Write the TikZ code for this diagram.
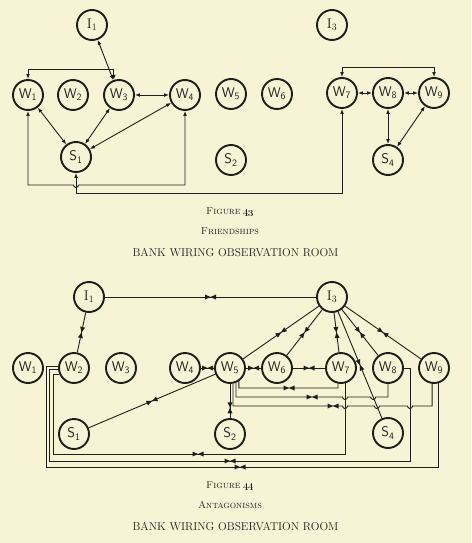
\documentclass[tikz,border=0pt]{standalone}
\usetikzlibrary{arrows.meta,decorations.markings}
\definecolor{paper}{RGB}{247,244,213}
\definecolor{ink}{RGB}{30,30,28}
\begin{document}
\begin{tikzpicture}[x=1pt,y=-1pt,
  person/.style={circle, draw=ink, line width=1.9pt, minimum size=30pt, inner sep=0pt,
     text=ink, font=\fontsize{14}{14}\selectfont\sffamily},
  iperson/.style={person, font=\fontsize{14}{14}\selectfont\rmfamily},
  link/.style={draw=ink, line width=0.9pt},
  twoway/.style={link, {Latex[length=5pt,width=3.8pt]}-{Latex[length=5pt,width=3.8pt]}},
  tie/.style={postaction={decorate, decoration={markings, mark=at position #1 with
     {\fill[ink] (-5.5,-2.5) -- (0,0) -- (-5.5,2.5) -- cycle (5.5,-2.5) -- (0,0) -- (5.5,2.5) -- cycle;}}}},
  tie/.default=0.5,
  tiepic/.pic={\fill[ink] (-5.5,-2.5) -- (0,0) -- (-5.5,2.5) -- cycle (5.5,-2.5) -- (0,0) -- (5.5,2.5) -- cycle;},
  caption/.style={text=ink, font=\fontsize{10}{12}\selectfont},
  title/.style={text=ink, font=\fontsize{11.4}{13}\selectfont}
]
\fill[paper] (0,0) rectangle (471,543);
\useasboundingbox (0,0) rectangle (471,543);

% ---------------- Figure 43 ----------------
\node[iperson] (tI1) at (92,25) {I\textsubscript{1}};
\node[iperson] (tI3) at (332,25) {I\textsubscript{3}};
\node[person] (tW1) at (28,95) {W\textsubscript{1}};
\node[person] (tW2) at (73,95) {W\textsubscript{2}};
\node[person] (tW3) at (119,95) {W\textsubscript{3}};
\node[person] (tW4) at (185,95) {W\textsubscript{4}};
\node[person] (tW5) at (231,94) {W\textsubscript{5}};
\node[person] (tW6) at (277,94) {W\textsubscript{6}};
\node[person] (tW7) at (342,93) {W\textsubscript{7}};
\node[person] (tW8) at (388,93) {W\textsubscript{8}};
\node[person] (tW9) at (434,93) {W\textsubscript{9}};
\node[person] (tS1) at (76,157) {S\textsubscript{1}};
\node[person] (tS2) at (231,160) {S\textsubscript{2}};
\node[person] (tS4) at (388,160) {S\textsubscript{4}};

\draw[twoway] (tI1) -- (tW3);
\draw[twoway] (tW1.north) -- (28,69) -| (tW3.109);
\draw[twoway] (tW3) -- (tW4);
\draw[twoway] (tW1) -- (tS1);
\draw[twoway] (tW3) -- (tS1);
\draw[twoway] (tW4) -- (tS1);
\draw[twoway] (tW1.south) -- (28,185) -- (73.5,185) arc[start angle=180,end angle=0,radius=2.5] -| (tW4.south);
\draw[twoway] (tS1.south) -- (76,193) -| (tW7.south);
\draw[twoway] (tW7.north) -- (342,67) -| (tW9.north);
\draw[twoway] (tW7) -- (tW8);
\draw[twoway] (tW8) -- (tW9);
\draw[twoway] (tW8) -- (tS4);
\draw[twoway] (tW9) -- (tS4);

\node[caption] (c1) at (230,212) {\textsc{Figure} \oldstylenums{43}};
\node[caption] (c2) at (230,231) {\textsc{Friendships}};
\node[title] (c3) at (235.5,253) {BANK WIRING OBSERVATION ROOM};

% ---------------- Figure 44 ----------------
\node[iperson] (bI1) at (89,297) {I\textsubscript{1}};
\node[iperson] (bI3) at (332,297) {I\textsubscript{3}};
\node[person] (bW1) at (28,368) {W\textsubscript{1}};
\node[person] (bW2) at (74,368) {W\textsubscript{2}};
\node[person] (bW3) at (121,368) {W\textsubscript{3}};
\node[person] (bW4) at (185,368) {W\textsubscript{4}};
\node[person] (bW5) at (230,368) {W\textsubscript{5}};
\node[person] (bW6) at (277,368) {W\textsubscript{6}};
\node[person] (bW7) at (341,368) {W\textsubscript{7}};
\node[person] (bW8) at (388,368) {W\textsubscript{8}};
\node[person] (bW9) at (434,368) {W\textsubscript{9}};
\node[person] (bS1) at (74,434) {S\textsubscript{1}};
\node[person] (bS2) at (230,434) {S\textsubscript{2}};
\node[person] (bS4) at (388,433) {S\textsubscript{4}};

\draw[link,tie] (bI1) -- (bI3);
\draw[link,tie] (bI1) -- (bW2);
\draw[link,tie] (bW4) -- (bW5);
\draw[link,tie] (bW5) -- (bW6);
\draw[link,tie] (bW6) -- (bW7);
\draw[link,tie] (bW5) -- (bS1);
\draw[link,tie] (bI3) -- (bW5);
\draw[link,tie] (bI3) -- (bW6);
\draw[link,tie] (bI3) -- (bW7);
\draw[link,tie] (bI3) -- (bS4);
\draw[link,tie] (bI3) -- (bW8);
\draw[link,tie] (bI3) -- (bW9);
\draw[link,tie=0.7] (bW5.south) -- (bS2.north);

% W5 to W7, W8, W9
\draw[link] (bW5.-56) |- (338,388) -- (bW7.-101);
\draw[link] (bW5.-68) |- (342.5,397) arc[start angle=180,end angle=0,radius=2.5]
   -- (370.7,397) arc[start angle=180,end angle=0,radius=2.5] -| (bW8.south);
\draw[link] (bW5.-79) |- (342.5,406) arc[start angle=180,end angle=0,radius=2.5]
   -- (374.4,406) arc[start angle=180,end angle=0,radius=2.5]
   -- (407.5,406) arc[start angle=180,end angle=0,radius=2.5] -| (bW9.-97);
\pic at (289,388) {tiepic};
\pic at (312,397) {tiepic};
\pic at (333,406) {tiepic};

% W2 to W7, W8, W9
\draw[link] (bW2.202) -| (53,454) -| (bW7.-75.5);
\draw[link] (bW2.187) -| (49,461) -| (410,368) -- (bW8.east);
\draw[link] (bW2.176) -| (46,467) -| (bW9.-75.5);
\pic at (198,454) {tiepic};
\pic at (230,461) {tiepic};
\pic at (240,467) {tiepic};

\node[caption] (c4) at (230,486) {\textsc{Figure} \oldstylenums{44}};
\node[caption] (c5) at (230,505) {\textsc{Antagonisms}};
\node[title] (c6) at (235.5,527) {BANK WIRING OBSERVATION ROOM};
\end{tikzpicture}
\end{document}
